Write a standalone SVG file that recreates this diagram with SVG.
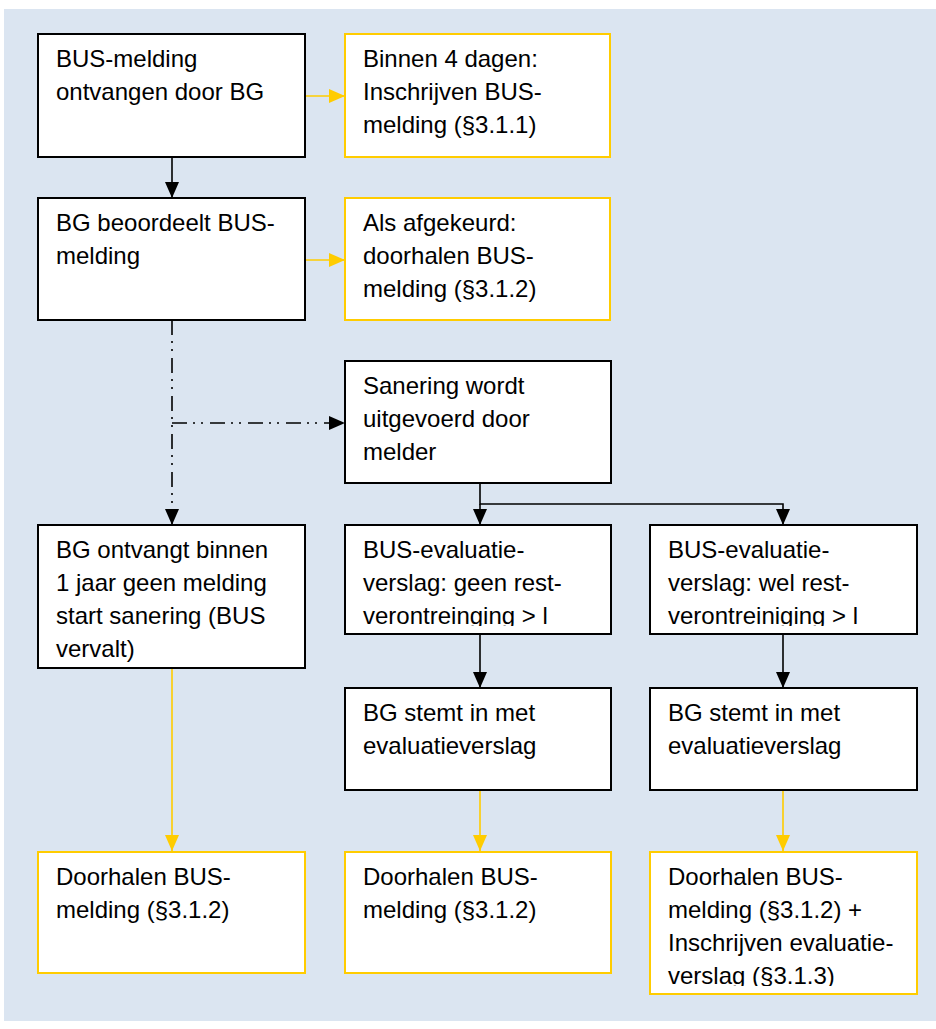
<svg xmlns="http://www.w3.org/2000/svg" width="936" height="1029" viewBox="0 0 936 1029">
<style>
.bg{fill:#dbe5f1}
.nb{fill:#fff;stroke:#000;stroke-width:2}
.yb{fill:#fff;stroke:#ffcc00;stroke-width:2}
text{font-family:"Liberation Sans",Arial,sans-serif;font-size:24px;fill:#000}
.k{stroke:#000;stroke-width:1.6;fill:none}
.y{stroke:#ffcc00;stroke-width:1.6;fill:none}
.dd{stroke:#000;stroke-width:1.6;fill:none;stroke-dasharray:15 6 2 6 2 7}
</style>
<defs>
<marker id="ak" markerUnits="userSpaceOnUse" markerWidth="16" markerHeight="16" viewBox="0 0 16 16" refX="16" refY="8" orient="auto"><path d="M0,1 L16,8 L0,15 Z" fill="#000"/></marker>
<marker id="ay" markerUnits="userSpaceOnUse" markerWidth="16" markerHeight="16" viewBox="0 0 16 16" refX="16" refY="8" orient="auto"><path d="M0,1 L16,8 L0,15 Z" fill="#ffcc00"/></marker>
<clipPath id="c6"><rect x="345" y="525" width="266" height="101"/></clipPath>
<clipPath id="c7"><rect x="650" y="525" width="267" height="101"/></clipPath>
<clipPath id="c13"><rect x="650" y="852" width="267" height="134"/></clipPath>
</defs>
<rect class="bg" x="4" y="9" width="932" height="1012"/>
<g id="connectors">
<line class="y" x1="305" y1="96" x2="345" y2="96" marker-end="url(#ay)"/>
<line class="k" x1="172" y1="157" x2="172" y2="198" marker-end="url(#ak)"/>
<line class="y" x1="305" y1="260" x2="345" y2="260" marker-end="url(#ay)"/>
<line class="dd" x1="172" y1="320" x2="172" y2="525" marker-end="url(#ak)"/>
<line class="dd" x1="172" y1="423" x2="345" y2="423" marker-end="url(#ak)"/>
<polyline class="k" points="480,483 480,504 783,504 783,525" marker-end="url(#ak)"/>
<line class="k" x1="480" y1="504" x2="480" y2="525" marker-end="url(#ak)"/>
<line class="k" x1="480" y1="634" x2="480" y2="688" marker-end="url(#ak)"/>
<line class="k" x1="783" y1="634" x2="783" y2="688" marker-end="url(#ak)"/>
<line class="y" x1="172" y1="668" x2="172" y2="851" marker-end="url(#ay)"/>
<line class="y" x1="480" y1="790" x2="480" y2="851" marker-end="url(#ay)"/>
<line class="y" x1="783" y1="790" x2="783" y2="851" marker-end="url(#ay)"/>
</g>
<g id="n1"><rect class="nb" x="38" y="34" width="267" height="123"/><text x="56" y="67">BUS-melding</text><text x="56" y="100">ontvangen door BG</text></g>
<g id="n2"><rect class="yb" x="345" y="34" width="265" height="123"/><text x="363" y="67">Binnen 4 dagen:</text><text x="363" y="100">Inschrijven BUS-</text><text x="363" y="133">melding (§3.1.1)</text></g>
<g id="n3"><rect class="nb" x="38" y="198" width="267" height="122"/><text x="56" y="231">BG beoordeelt BUS-</text><text x="56" y="264">melding</text></g>
<g id="n4"><rect class="yb" x="345" y="198" width="265" height="122"/><text x="363" y="231">Als afgekeurd:</text><text x="363" y="264">doorhalen BUS-</text><text x="363" y="297">melding (§3.1.2)</text></g>
<g id="n5"><rect class="nb" x="345" y="361" width="266" height="122"/><text x="363" y="394">Sanering wordt</text><text x="363" y="427">uitgevoerd door</text><text x="363" y="460">melder</text></g>
<g id="n6"><rect class="nb" x="38" y="525" width="267" height="143"/><text x="56" y="558">BG ontvangt binnen</text><text x="56" y="591">1 jaar geen melding</text><text x="56" y="624">start sanering (BUS</text><text x="56" y="657">vervalt)</text></g>
<g id="n7"><rect class="nb" x="345" y="525" width="266" height="109"/><g clip-path="url(#c6)"><text x="363" y="558">BUS-evaluatie-</text><text x="363" y="591">verslag: geen rest-</text><text x="363" y="624">verontreinging &gt; l</text></g></g>
<g id="n8"><rect class="nb" x="650" y="525" width="267" height="109"/><g clip-path="url(#c7)"><text x="668" y="558">BUS-evaluatie-</text><text x="668" y="591">verslag: wel rest-</text><text x="668" y="624">verontreiniging &gt; l</text></g></g>
<g id="n9"><rect class="nb" x="345" y="688" width="266" height="102"/><text x="363" y="721">BG stemt in met</text><text x="363" y="754">evaluatieverslag</text></g>
<g id="n10"><rect class="nb" x="650" y="688" width="267" height="102"/><text x="668" y="721">BG stemt in met</text><text x="668" y="754">evaluatieverslag</text></g>
<g id="n11"><rect class="yb" x="38" y="852" width="267" height="121"/><text x="56" y="885">Doorhalen BUS-</text><text x="56" y="918">melding (§3.1.2)</text></g>
<g id="n12"><rect class="yb" x="345" y="852" width="266" height="121"/><text x="363" y="885">Doorhalen BUS-</text><text x="363" y="918">melding (§3.1.2)</text></g>
<g id="n13"><rect class="yb" x="650" y="852" width="267" height="142"/><g clip-path="url(#c13)"><text x="668" y="885">Doorhalen BUS-</text><text x="668" y="918">melding (§3.1.2) +</text><text x="668" y="951">Inschrijven evaluatie-</text><text x="668" y="984">verslag (§3.1.3)</text></g></g>
</svg>
